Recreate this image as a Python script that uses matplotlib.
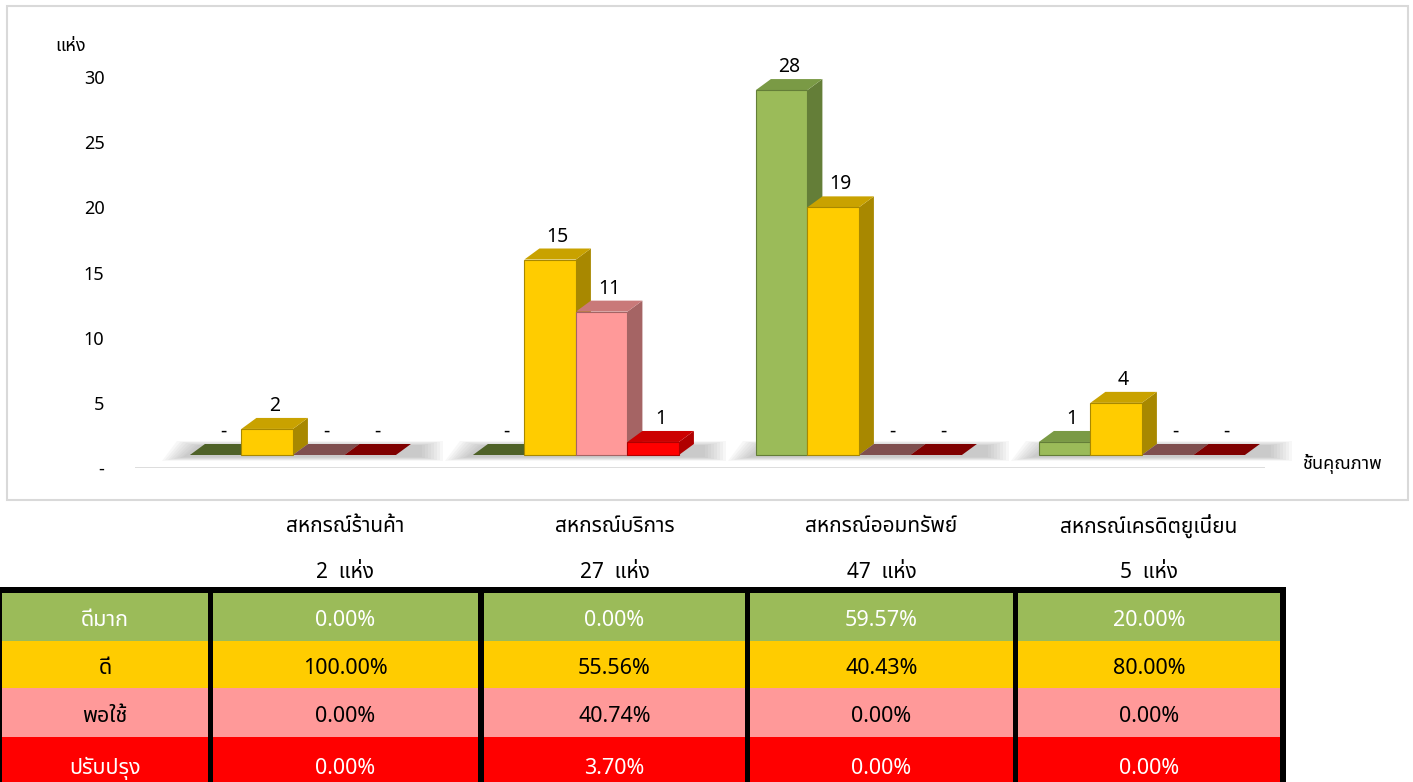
import matplotlib
matplotlib.use("Agg")
import matplotlib.pyplot as plt
from matplotlib.patches import Polygon, Rectangle

plt.rcParams['font.family'] = ['Noto Sans Thai', 'DejaVu Sans']
plt.rcParams['font.weight'] = 'medium'

# data
categories = ['สหกรณ์ร้านค้า', 'สหกรณ์บริการ', 'สหกรณ์ออมทรัพย์', 'สหกรณ์เครดิตยูเนี่ยน']
totals = [2, 27, 47, 5]
levels = ['ดีมาก', 'ดี', 'พอใช้', 'ปรับปรุง']
very_good = [0, 0, 28, 1]
good = [2, 15, 19, 4]
fair = [0, 11, 0, 0]
improve = [0, 1, 0, 0]
series = [very_good, good, fair, improve]
yticks = [0, 5, 10, 15, 20, 25, 30]
ytick_labels = ['-', '5', '10', '15', '20', '25', '30']

# colours: front, side, top, flat (zero value)
front_colors = ['#9BBB59', '#FFCC00', '#FF9999', '#FF0000']
side_colors = ['#647E38', '#A88800', '#A56464', '#B00000']
top_colors = ['#7A9A45', '#C9A200', '#C97979', '#CC0000']
flat_colors = ['#4F6228', '#C9A200', '#7F4F4F', '#7F0000']
row_text_colors = ['white', 'black', 'black', 'white']

W, H = 1413, 782
fig = plt.figure(figsize=(W / 100, H / 100), dpi=100)


def fx(px):
    return px / W


def fy(py):
    return 1 - py / H


# chart frame
fig.patches.append(Rectangle((fx(7), fy(500)), fx(1401), 494 / H, transform=fig.transFigure,
                             fill=False, edgecolor='#D9D9D9', linewidth=1.5))

ax = fig.add_axes([fx(135), fy(468), fx(1130), (468 - 77) / H])
ax.set_xlim(-0.558, 3.435)
ax.set_ylim(0, 30)
for s in ax.spines.values():
    s.set_visible(False)
ax.set_xticks([])
ax.set_yticks(yticks)
ax.set_yticklabels(ytick_labels, fontsize=13)
ax.tick_params(axis='y', length=0, pad=22)
for lbl in ax.get_yticklabels():
    lbl.set_horizontalalignment('right')
ax.axhline(0, xmin=0, xmax=1, color='#D9D9D9', linewidth=2, zorder=0)

fig.text(fx(55), fy(46), 'แห่ง', fontsize=13, va='center', ha='left')
fig.text(fx(1302), fy(464), 'ชั้นคุณภาพ', fontsize=13, va='center', ha='left')

# 3D column look
width = 0.182
dx, dy, lift = 15, 11, 13
fig.canvas.draw()
to_px = ax.transData.transform
offsets = [-1.5, -0.5, 0.5, 1.5]

# soft floor shadow per group
for g in range(len(categories)):
    x0 = to_px((g + offsets[0] * width - width / 2, 0))[0]
    x1 = to_px((g + offsets[-1] * width + width / 2, 0))[0]
    base = to_px((0, 0))[1] + lift
    for k in range(8):
        grow = 3 * (8 - k)
        pts = [(x0 - grow - 4, base - 2 - grow * 0.15), (x1 + dx + grow + 8, base - 2 - grow * 0.15),
               (x1 + dx + grow + 8, base + dy - 2 + grow * 0.2), (x0 + dx - grow - 4, base + dy - 2 + grow * 0.2)]
        fig.patches.append(Polygon(pts, closed=True, transform=None, facecolor='#7F7F7F',
                                   edgecolor='none', alpha=0.06, zorder=1))

for i, vals in enumerate(series):
    for g, v in enumerate(vals):
        xc = g + offsets[i] * width
        (x0, y0) = to_px((xc - width / 2, 0))
        (x1, y1) = to_px((xc + width / 2, v))
        y0 += lift
        y1 += lift
        if v == 0:
            pts = [(x0, y0), (x1, y0), (x1 + dx, y0 + dy), (x0 + dx, y0 + dy)]
            fig.patches.append(Polygon(pts, closed=True, transform=None, facecolor=flat_colors[i],
                                       edgecolor='none', zorder=3))
            label = '-'
            ytop = y0 + dy
        else:
            side = [(x1, y0), (x1 + dx, y0 + dy), (x1 + dx, y1 + dy), (x1, y1)]
            top = [(x0, y1), (x1, y1), (x1 + dx, y1 + dy), (x0 + dx, y1 + dy)]
            fig.patches.append(Polygon(side, closed=True, transform=None, facecolor=side_colors[i],
                                       edgecolor='none', zorder=3))
            fig.patches.append(Polygon(top, closed=True, transform=None, facecolor=top_colors[i],
                                       edgecolor='none', zorder=3))
            fig.patches.append(Rectangle((x0, y0), x1 - x0, y1 - y0, transform=None,
                                         facecolor=front_colors[i], edgecolor=side_colors[i],
                                         linewidth=0.8, zorder=4))
            label = str(v)
            ytop = y1 + dy
        fig.text((x0 + x1 + dx) / 2 / W, (ytop + 2) / H, label, fontsize=14,
                 ha='center', va='bottom')

# table under the chart
col_edges = [(2, 208), (213, 478), (484, 745), (750, 1013), (1018, 1280)]
row_edges = [(593, 641), (641, 688), (688, 737), (737, 785)]
text_rows = [621, 668, 716, 768]

for c, name in enumerate(categories):
    xa, xb = col_edges[c + 1]
    xm = (xa + xb) / 2
    fig.text(fx(xm), fy(526), name, fontsize=15, ha='center', va='center')
    fig.text(fx(xm), fy(572), '%d  แห่ง' % totals[c], fontsize=15, ha='center', va='center')

fig.patches.append(Rectangle((0, 0), fx(1286), fy(587), transform=fig.transFigure,
                             facecolor='black', edgecolor='none', zorder=1))
for r, lev in enumerate(levels):
    ya, yb = row_edges[r]
    for c, (xa, xb) in enumerate(col_edges):
        fig.patches.append(Rectangle((fx(xa), fy(yb)), fx(xb - xa), (yb - ya) / H,
                                     transform=fig.transFigure, facecolor=front_colors[r],
                                     edgecolor='none', zorder=2))
        if c == 0:
            txt = lev
        else:
            txt = '%.2f%%' % (100.0 * series[r][c - 1] / totals[c - 1])
        fig.text(fx((xa + xb) / 2), fy(text_rows[r]), txt, fontsize=15.5, ha='center', va='center',
                 color=row_text_colors[r], zorder=5)

fig.savefig('out.png', dpi=100)
